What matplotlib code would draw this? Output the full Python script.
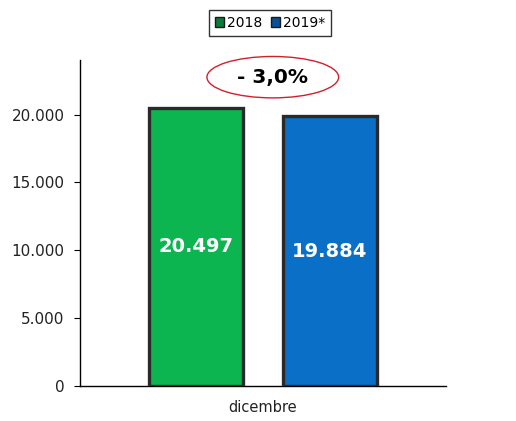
import matplotlib
matplotlib.use("Agg")
import matplotlib.pyplot as plt
from matplotlib.patches import Ellipse, Patch

# data
categories = ["dicembre"]
series = ["2018", "2019*"]
values = [20497, 19884]
value_labels = ["20.497", "19.884"]
colors = ["#0cb550", "#0a6fc6"]
legend_colors = ["#0b7a3a", "#0b4f94"]
change_label = "- 3,0%"
yticks = [0, 5000, 10000, 15000, 20000]
ytick_labels = ["0", "5.000", "10.000", "15.000", "20.000"]

fig = plt.figure(figsize=(5.16, 4.21), dpi=100)
ax = fig.add_axes([0.155, 0.083, 0.709, 0.774])

offsets = [-0.183, 0.183]
width = 0.257
for i in range(len(series)):
    ax.bar(offsets[i], values[i], width=width, color=colors[i],
           edgecolor="#2a2a2a", linewidth=2.4, zorder=3)
    ax.text(offsets[i], values[i] / 2, value_labels[i], color="white",
            fontsize=14, fontweight="bold", ha="center", va="center", zorder=4)

ax.set_xlim(-0.5, 0.5)
ax.set_ylim(0, 24000)
ax.set_xticks([0])
ax.set_xticklabels(categories, fontsize=10.5, color="#222222")
ax.set_yticks(yticks)
ax.set_yticklabels(ytick_labels, fontsize=11, color="#222222")
ax.tick_params(axis="x", length=0, pad=10)
ax.tick_params(axis="y", length=4, direction="out", pad=7)
for s in ["top", "right"]:
    ax.spines[s].set_visible(False)
ax.spines["left"].set_linewidth(1.0)
ax.spines["bottom"].set_linewidth(1.0)

# change annotation
ell = Ellipse((0.027, 22750), width=0.36, height=3050, facecolor="none",
              edgecolor="#d0202a", linewidth=1.0, clip_on=False, zorder=5)
ax.add_patch(ell)
ax.text(0.027, 22750, change_label, fontsize=14.5, fontweight="bold",
        ha="center", va="center", zorder=6)

handles = [Patch(facecolor=c, edgecolor="#1a1a1a", label=s) for c, s in zip(legend_colors, series)]
fig.legend(handles=handles, loc="center", bbox_to_anchor=(270 / 516, 1 - 23 / 421),
           ncol=2, fontsize=10, frameon=True, fancybox=False, edgecolor="black",
           handlelength=0.7, handleheight=0.7, handletextpad=0.2, columnspacing=0.6,
           borderpad=0.4)

fig.savefig("out.png", dpi=100)
